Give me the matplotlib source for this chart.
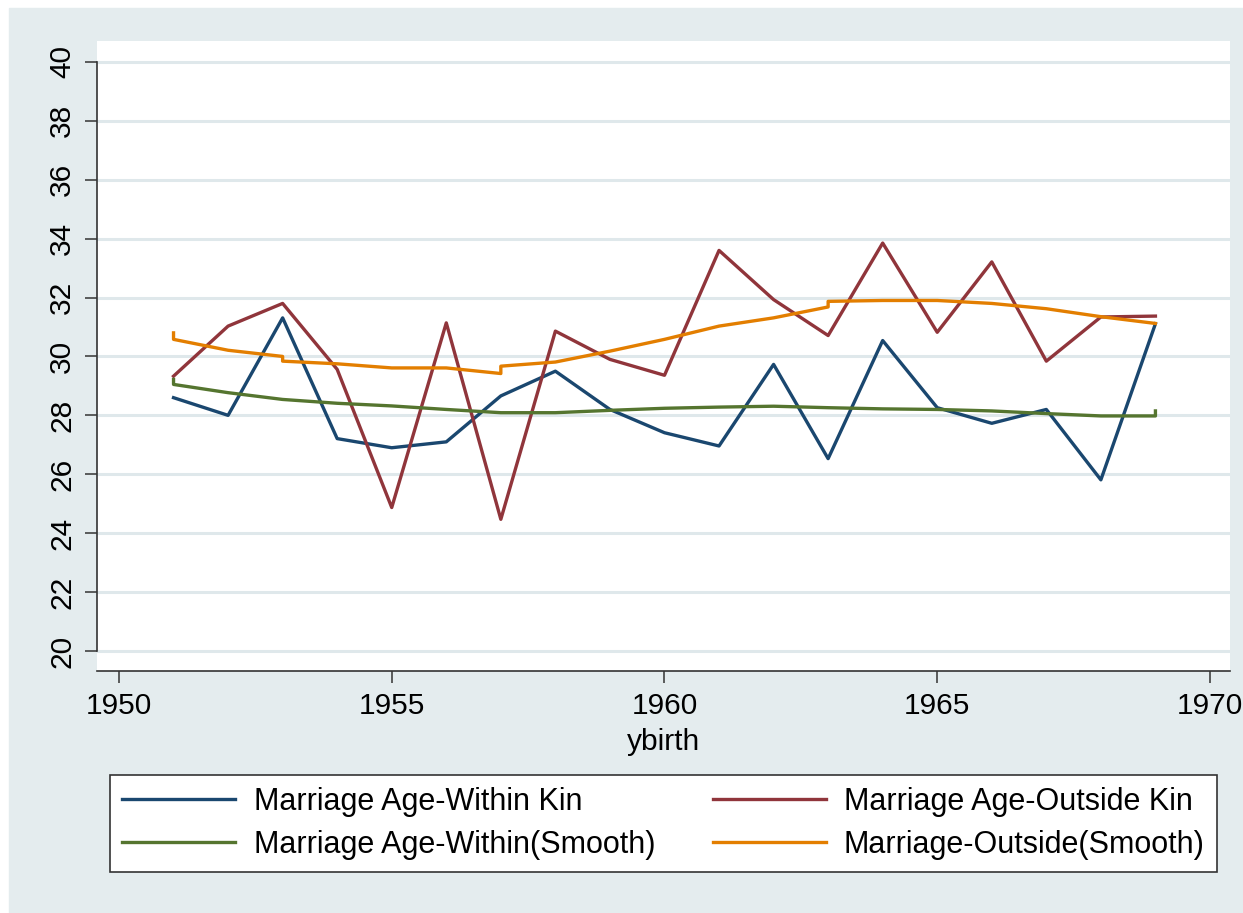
import matplotlib
matplotlib.use("Agg")
import matplotlib.pyplot as plt
from matplotlib.patches import Rectangle

plt.rcParams.update({"font.family": ["Liberation Sans", "DejaVu Sans"], "font.size": 21.5})

# yearly series
years = list(range(1951, 1970))
within_kin = [28.60, 28.00, 31.31, 27.21, 26.90, 27.10, 28.66, 29.50, 28.20, 27.41,
              26.96, 29.73, 26.53, 30.54, 28.26, 27.73, 28.20, 25.81, 31.11]
outside_kin = [29.33, 31.03, 31.80, 29.56, 24.87, 31.14, 24.47, 30.86, 29.90, 29.36,
               33.60, 31.93, 30.71, 33.85, 30.82, 33.21, 29.84, 31.34, 31.37]

# smoothed series (repeated years = small jumps in the lowess line)
within_sm_x = [1951, 1951, 1952, 1953, 1954, 1955, 1956, 1957, 1958, 1959, 1960,
               1961, 1962, 1963, 1964, 1965, 1966, 1967, 1968, 1969, 1969]
within_sm_y = [29.22, 29.05, 28.77, 28.54, 28.41, 28.32, 28.20, 28.09, 28.09, 28.17, 28.24,
               28.28, 28.31, 28.26, 28.22, 28.20, 28.15, 28.06, 27.98, 27.98, 28.15]
outside_sm_x = [1951, 1951, 1952, 1953, 1953, 1954, 1955, 1956, 1957, 1957, 1958, 1959,
                1960, 1961, 1962, 1963, 1963, 1964, 1965, 1966, 1967, 1968, 1969]
outside_sm_y = [30.80, 30.58, 30.21, 30.00, 29.84, 29.75, 29.61, 29.61, 29.42, 29.67, 29.81, 30.18,
                30.58, 31.03, 31.31, 31.68, 31.87, 31.90, 31.90, 31.80, 31.62, 31.35, 31.12]

labels = ["Marriage Age-Within Kin", "Marriage Age-Outside Kin",
          "Marriage Age-Within(Smooth)", "Marriage-Outside(Smooth)"]
xticks = [1950, 1955, 1960, 1965, 1970]
yticks = list(range(20, 41, 2))

W, H = 1243, 913
bg = "#e4ecee"
grid = "#dfe8eb"

fig = plt.figure(figsize=(W / 100, H / 100), dpi=100, facecolor="white")
fig.patches.append(Rectangle((9 / W, 0), 1 - 9 / W, (H - 8) / H,
                             transform=fig.transFigure, color=bg, zorder=-10))

ax = fig.add_axes([97 / W, (H - 671) / H, (1230 - 97) / W, (671 - 41) / H])
ax.set_facecolor("white")

l1, = ax.plot(years, within_kin, color="#1a476f", lw=2.4)
l2, = ax.plot(years, outside_kin, color="#90353b", lw=2.4)
l3, = ax.plot(within_sm_x, within_sm_y, color="#55752f", lw=2.4)
l4, = ax.plot(outside_sm_x, outside_sm_y, color="#e37e00", lw=2.4)

ax.set_xlim(1949.597, 1970.367)
ax.set_ylim(19.32, 40.71)
ax.set_xticks(xticks)
ax.set_yticks(yticks)
ax.yaxis.grid(True, color=grid, lw=2.2)
ax.set_axisbelow(True)

for s in ["top", "right"]:
    ax.spines[s].set_visible(False)
ax.spines["left"].set_bounds(20, 40)
for s in ["left", "bottom"]:
    ax.spines[s].set_color("#333333")
    ax.spines[s].set_linewidth(1.2)

ax.tick_params(length=8.6, width=1.1, color="#333333", pad=6.5, labelsize=21.5)
ax.tick_params(axis="y", labelrotation=90)
for t in ax.get_yticklabels():
    t.set_va("center")

ax.set_xlabel("ybirth", fontsize=21.5, labelpad=6)

fig.legend([l1, l3, l2, l4], [labels[0], labels[2], labels[1], labels[3]],
           ncol=2, mode="expand", loc="center", borderaxespad=0,
           bbox_to_anchor=(110 / W, (H - 874) / H, (1217 - 110) / W, (874 - 773) / H),
           bbox_transform=fig.transFigure,
           fancybox=False, edgecolor="#333333", framealpha=1,
           handlelength=3.7, handletextpad=0.6, labelspacing=0.42,
           borderpad=0.4, fontsize=22)
fig.legends[0].get_frame().set_linewidth(1.2)

fig.savefig("out.png", dpi=100, facecolor="white")
